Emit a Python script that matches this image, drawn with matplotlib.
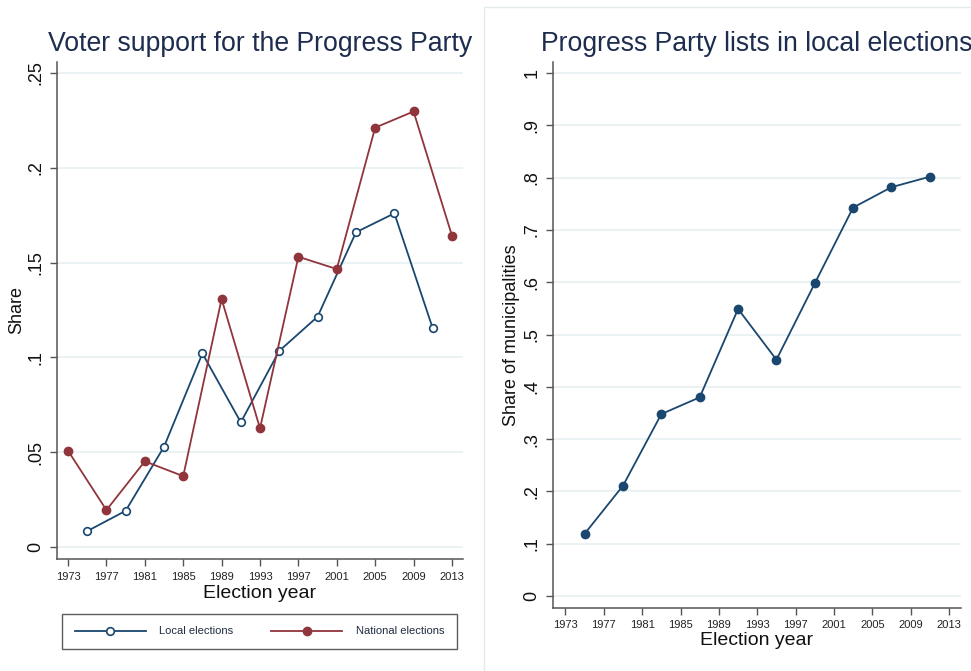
import matplotlib
matplotlib.use("Agg")
import matplotlib.pyplot as plt
from matplotlib.patches import Rectangle

plt.rcParams['font.family'] = ['Liberation Sans', 'DejaVu Sans']

# ---- data ----
local_years = [1975, 1979, 1983, 1987, 1991, 1995, 1999, 2003, 2007, 2011]
local_share = [0.0084, 0.0191, 0.0529, 0.1021, 0.0658, 0.1034, 0.1215, 0.1660, 0.1760, 0.1153]
national_years = [1973, 1977, 1981, 1985, 1989, 1993, 1997, 2001, 2005, 2009, 2013]
national_share = [0.0508, 0.0195, 0.0452, 0.0374, 0.1308, 0.0626, 0.1531, 0.1466, 0.2212, 0.2297, 0.1642]
list_years = [1975, 1979, 1983, 1987, 1991, 1995, 1999, 2003, 2007, 2011]
list_share = [0.119, 0.211, 0.348, 0.380, 0.549, 0.452, 0.598, 0.743, 0.782, 0.802]

x_ticks = [1973, 1977, 1981, 1985, 1989, 1993, 1997, 2001, 2005, 2009, 2013]
left_yticks = [0, 0.05, 0.10, 0.15, 0.20, 0.25]
left_ylabels = ["0", ".05", ".1", ".15", ".2", ".25"]
right_yticks = [0, 0.1, 0.2, 0.3, 0.4, 0.5, 0.6, 0.7, 0.8, 0.9, 1.0]
right_ylabels = ["0", ".1", ".2", ".3", ".4", ".5", ".6", ".7", ".8", ".9", "1"]

BLUE = "#1a476f"
RED = "#90353b"
TITLE_C = "#1e2d4f"
GRID_C = "#eaf2f3"
SPINE_C = "#555555"

W, H = 971, 671
fig = plt.figure(figsize=(W / 100, H / 100), dpi=100)
fig.patch.set_facecolor("white")

# faint frame around right panel
fig.add_artist(Rectangle((484 / W, -0.02), 0.6, (H - 7) / H + 0.02,
                         transform=fig.transFigure, fill=False,
                         ec="#e3ebeb", lw=1.0))

def axbox(l, t, r, b):
    return [l / W, 1 - b / H, (r - l) / W, (b - t) / H]

def style(ax, yt, yl, ylim, xlim):
    ax.set_xlim(*xlim)
    ax.set_ylim(*ylim)
    ax.set_xticks(x_ticks)
    ax.set_xticklabels([str(v) for v in x_ticks], fontsize=8, color="#222222")
    ax.set_yticks(yt)
    ax.set_yticklabels(yl, fontsize=13, rotation=90, va="center", color="#111111")
    for s in ["top", "right"]:
        ax.spines[s].set_visible(False)
    for s in ["left", "bottom"]:
        ax.spines[s].set_color(SPINE_C)
        ax.spines[s].set_linewidth(1.1)
    ax.tick_params(axis="both", direction="out", length=5, width=1.0, color=SPINE_C)
    ax.tick_params(axis="y", pad=4)
    ax.tick_params(axis="x", pad=4)
    ax.grid(axis="y", color=GRID_C, lw=1.4)
    ax.set_axisbelow(True)
    ax.set_xlabel("Election year", fontsize=14, labelpad=2.5, color="#111111")

# ---- left panel ----
ax1 = fig.add_axes(axbox(57, 62, 463, 559))
ax1.plot(local_years, local_share, color=BLUE, lw=1.3, marker="o", ms=5.5,
         mfc="white", mec=BLUE, mew=1.2, label="Local elections")
ax1.plot(national_years, national_share, color=RED, lw=1.3, marker="o", ms=6,
         mfc=RED, mec=RED, label="National elections")
style(ax1, left_yticks, left_ylabels, (-0.0063, 0.2558), (1971.85, 2014.15))
ax1.set_title("Voter support for the Progress Party", fontsize=19.2, color=TITLE_C, pad=8)
ax1.set_ylabel("Share", fontsize=13, color="#111111", va="center")
ax1.yaxis.set_label_coords((17 - 57) / 406, 0.5)

leg = fig.legend(handles=ax1.get_lines(), loc="center",
                 bbox_to_anchor=((62 + 457) / 2 / W, 1 - 631.5 / H),
                 ncol=2, fontsize=8, handlelength=6.4, handletextpad=1.2,
                 columnspacing=3.4, frameon=True, fancybox=False,
                 borderpad=1.15, borderaxespad=0)
leg.get_frame().set_edgecolor("#333333")
leg.get_frame().set_linewidth(1.0)
for t in leg.get_texts():
    t.set_color("#1e2b40")

# ---- right panel ----
ax2 = fig.add_axes(axbox(553, 61.7, 961, 607.7))
ax2.plot(list_years, list_share, color=BLUE, lw=1.3, marker="o", ms=6,
         mfc=BLUE, mec=BLUE)
style(ax2, right_yticks, right_ylabels, (-0.0224, 1.022), (1971.7, 2014.25))
ax2.xaxis.labelpad = 1.5
ax2.set_title("Progress Party lists in local elections", fontsize=19.2, color=TITLE_C, pad=8)
ax2.set_ylabel("Share of municipalities", fontsize=13, color="#111111", va="center")
ax2.yaxis.set_label_coords((512 - 553) / 408, 0.5)

fig.savefig("out.png", dpi=100, facecolor="white")
